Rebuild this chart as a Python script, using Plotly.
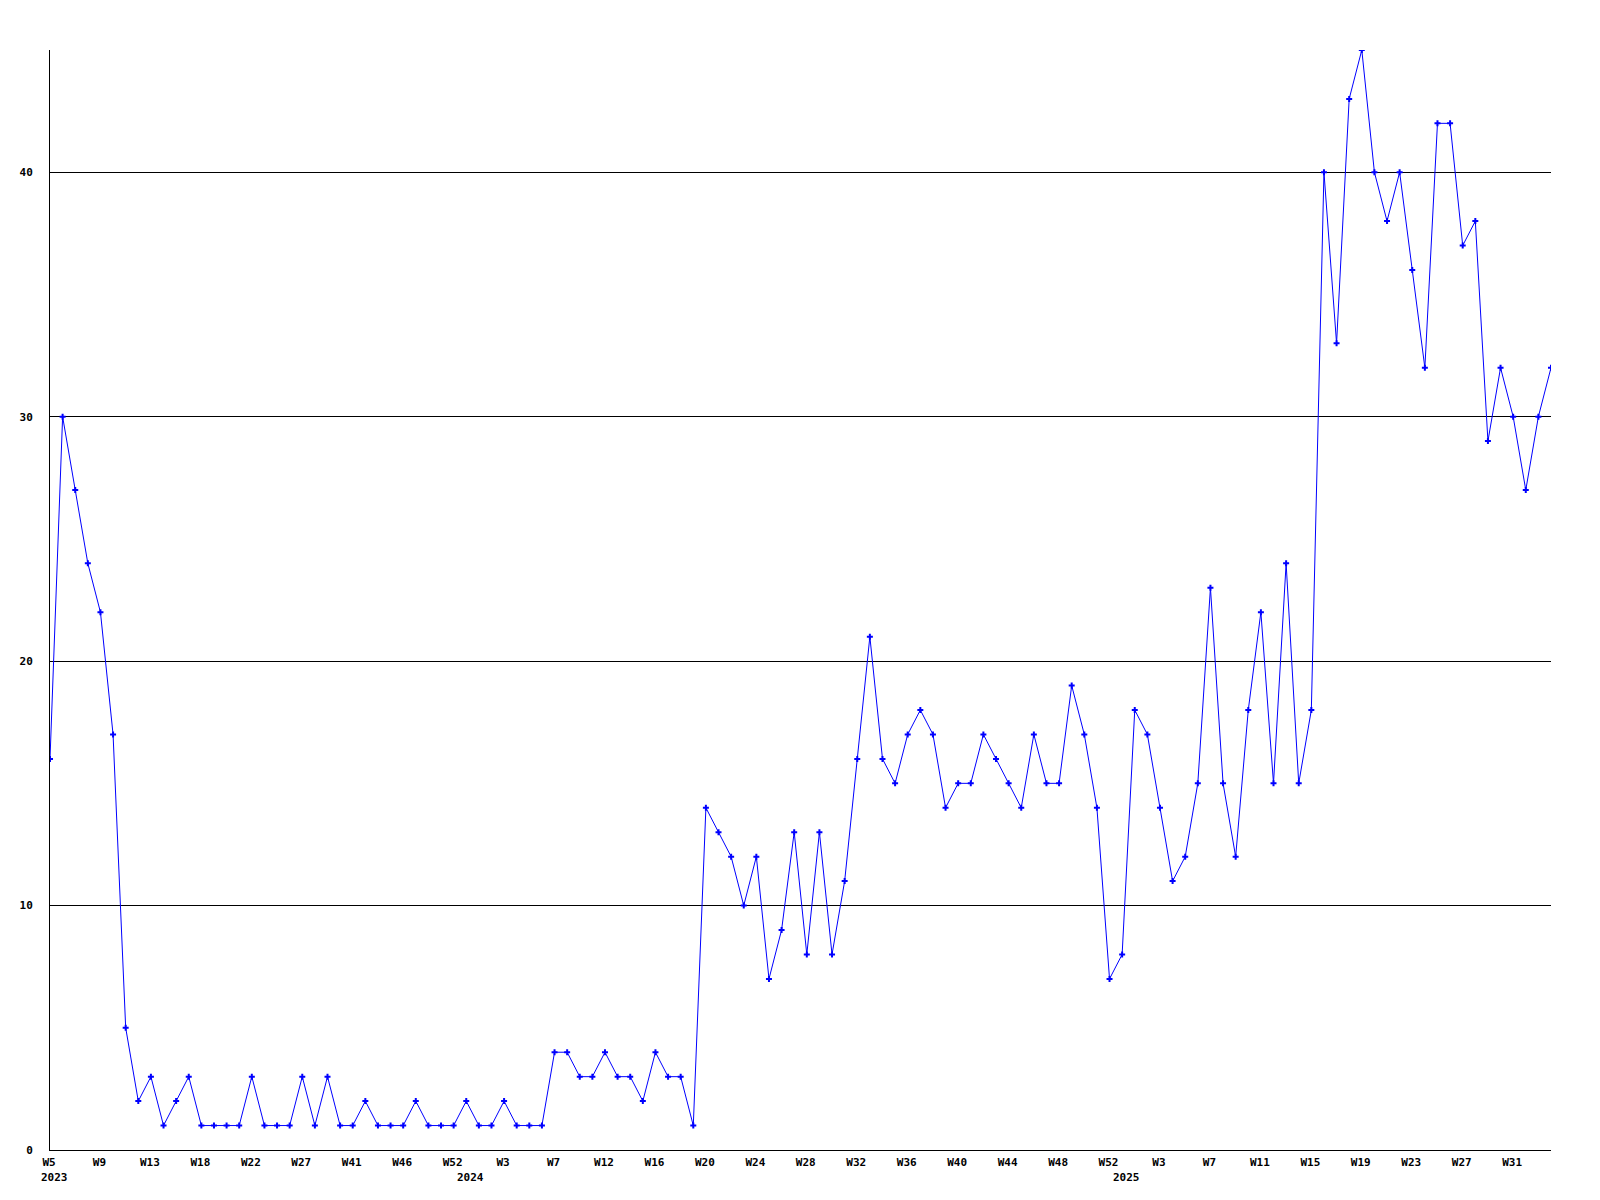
import plotly.graph_objects as go

# ---- data ----
years = [2023] * 33 + [2024] * 52 + [2025] * 35
weeks = [
    5, 6, 7, 8, 9, 10, 11, 12, 13, 14, 15, 17, 18, 19, 20, 21, 22, 23, 24, 26,
    27, 28, 31, 36, 41, 42, 43, 45, 46, 48, 49, 51, 52,
    0, 1, 2, 3, 4, 5, 6, 7, 8, 9, 10, 12, 13, 14, 15, 16, 17, 18, 19, 20,
    21, 22, 23, 24, 25, 26, 27, 28, 29, 30, 31, 32, 33, 34, 35, 36, 37, 38, 39, 40,
    41, 42, 43, 44, 45, 46, 47, 48, 49, 50, 51, 52,
    0, 1, 2, 3, 4, 5, 6, 7, 8, 9, 10, 11, 12, 13, 14, 15, 16, 17, 18, 19,
    20, 21, 22, 23, 24, 25, 26, 27, 28, 29, 30, 31, 32, 33, 34,
]
values = [
    16, 30, 27, 24, 22, 17, 5, 2, 3, 1, 2, 3, 1, 1, 1, 1, 3, 1, 1, 1,
    3, 1, 3, 1, 1, 2, 1, 1, 1, 2, 1, 1, 1, 2, 1, 1, 2, 1, 1, 1,
    4, 4, 3, 3, 4, 3, 3, 2, 4, 3, 3, 1, 14, 13, 12, 10, 12, 7, 9, 13,
    8, 13, 8, 11, 16, 21, 16, 15, 17, 18, 17, 14, 15, 15, 17, 16, 15, 14, 17, 15,
    15, 19, 17, 14, 7, 8, 18, 17, 14, 11, 12, 15, 23, 15, 12, 18, 22, 15, 24, 15,
    18, 40, 33, 43, 45, 40, 38, 40, 36, 32, 42, 42, 37, 38, 29, 32, 30, 27, 30, 32,
]
y_ticks = [0, 10, 20, 30, 40]

categories = [f"{y}-W{w}" for y, w in zip(years, weeks)]
tick_idx = list(range(0, len(categories), 4))
tick_vals = [categories[i] for i in tick_idx]
tick_text = [f"W{weeks[i]}" for i in tick_idx]
year_starts = [i for i in range(len(years)) if i == 0 or years[i] != years[i - 1]]

FONT = dict(family="DejaVu Sans Mono", size=11, color="black", weight="bold")

fig = go.Figure()
fig.add_trace(go.Scatter(
    x=categories, y=values, mode="lines+markers",
    line=dict(color="#0000ff", width=1),
    marker=dict(symbol="cross", size=5, color="#0000ff", line=dict(width=0)),
    showlegend=False,
))

for i in year_starts:
    fig.add_annotation(
        x=categories[i], y=0, yref="paper", yshift=-19,
        text=str(years[i]), showarrow=False,
        xanchor="left", yanchor="top", xshift=-11, font=FONT,
    )

fig.update_layout(
    width=1600, height=1200,
    margin=dict(l=42, r=57, t=42, b=58),
    paper_bgcolor="white", plot_bgcolor="white",
    font=FONT,
    xaxis=dict(
        type="category", categoryorder="array", categoryarray=categories,
        range=[0, len(categories) - 1],
        tickvals=tick_vals, ticktext=tick_text, ticks="",
        showgrid=False, showline=True, linecolor="black", linewidth=1,
        zeroline=False, tickfont=FONT, ticklabelshift=-1, ticklabelstandoff=2,
    ),
    yaxis=dict(
        range=[0, 45], tickvals=y_ticks, ticks="",
        showgrid=True, gridcolor="black", gridwidth=1,
        showline=True, linecolor="black", linewidth=1,
        zeroline=False, tickfont=FONT, ticklabelstandoff=14,
    ),
)

fig.write_html("out.html")
